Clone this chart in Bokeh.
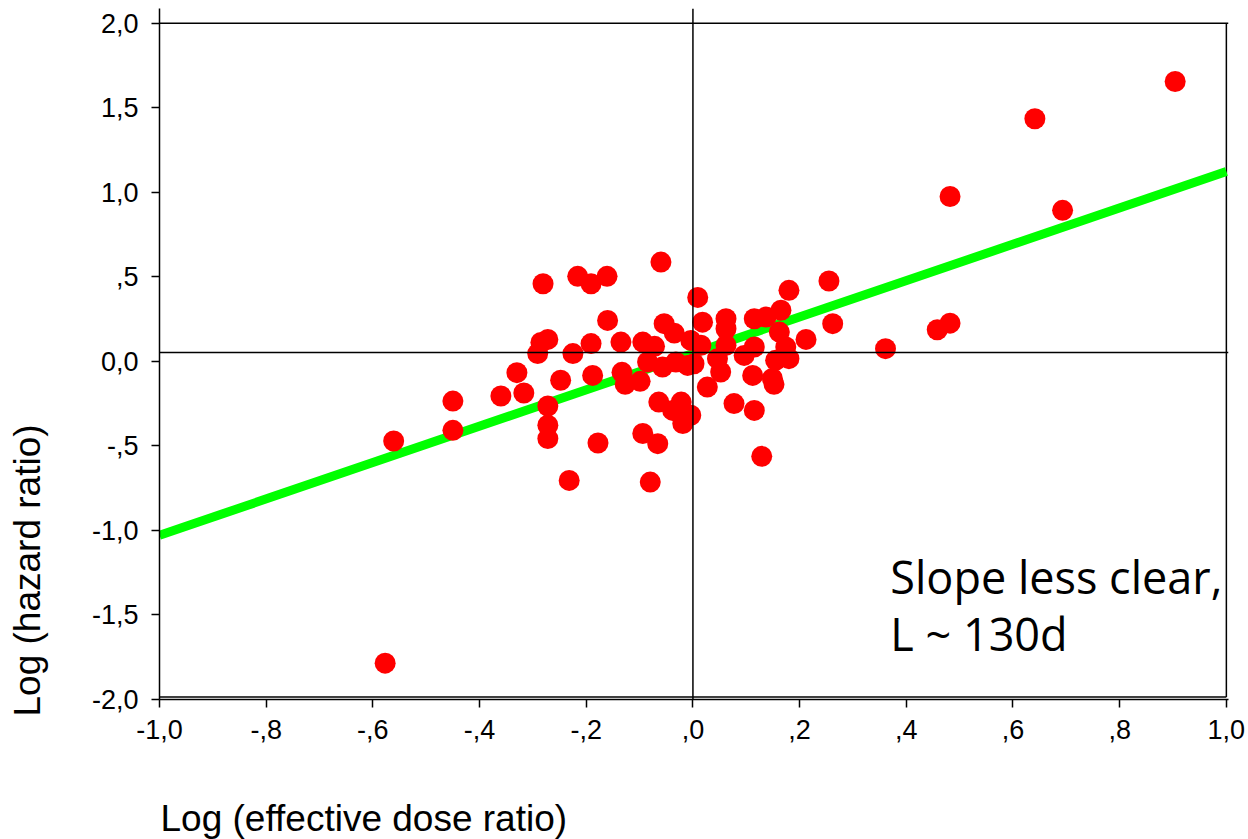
from bokeh.plotting import figure
from bokeh.models import Range1d, FixedTicker, Span, Label, Title
from bokeh.embed import file_html
from bokeh.resources import INLINE

# ---- data ----
log_dose_ratio = [
    -0.577, -0.561, -0.450, -0.450, -0.360, -0.317, -0.330, -0.291, -0.281, -0.285,
    -0.272, -0.272, -0.272, -0.272, -0.248, -0.232, -0.225, -0.216, -0.191, -0.161,
    -0.191, -0.188, -0.178, -0.160, -0.135, -0.133, -0.127, -0.099, -0.094, -0.072,
    -0.094, -0.066, -0.080, -0.085, -0.057, -0.032, -0.010, 0.002, -0.060, 0.009,
    -0.054, -0.035, 0.018, -0.004, 0.015, -0.064, -0.022, -0.038, -0.004, -0.019,
    0.027, 0.062, 0.062, 0.062, 0.046, 0.052, 0.077, 0.096, 0.115, 0.137,
    0.115, 0.112, 0.115, 0.129, 0.149, 0.152, 0.155, 0.162, 0.165, 0.180,
    0.174, 0.180, 0.212, 0.255, 0.262, 0.361, 0.458, 0.482, 0.482, 0.693,
    0.641, 0.904,
]
log_hazard_ratio = [
    -1.785, -0.471, -0.235, -0.408, -0.205, -0.187, -0.067, 0.046, 0.459, 0.112,
    0.130, -0.264, -0.378, -0.457, -0.112, -0.704, 0.046, 0.503, 0.459, 0.503,
    0.105, -0.083, -0.483, 0.242, 0.114, -0.065, -0.136, -0.118, 0.114, 0.089,
    -0.427, -0.487, -0.714, -0.004, -0.034, -0.004, -0.024, -0.014, 0.587, 0.378,
    0.223, 0.167, 0.232, 0.124, 0.095, -0.241, -0.241, -0.290, -0.319, -0.368,
    -0.152, 0.252, 0.193, 0.095, 0.016, -0.063, -0.250, 0.035, 0.252, 0.262,
    0.085, -0.083, -0.290, -0.562, -0.101, -0.136, 0.006, 0.173, 0.302, 0.420,
    0.085, 0.016, 0.130, 0.475, 0.223, 0.075, 0.187, 0.226, 0.975, 0.893,
    1.435, 1.655,
]
fit_x = [-1.0, 1.0]
fit_y = [-1.029, 1.123]
ref_hline = 0.053

x_ticks = [-1.0, -0.8, -0.6, -0.4, -0.2, 0.0, 0.2, 0.4, 0.6, 0.8, 1.0]
x_tick_labels = ["-1,0", "-,8", "-,6", "-,4", "-,2", ",0", ",2", ",4", ",6", ",8", "1,0"]
y_ticks = [-2.0, -1.5, -1.0, -0.5, 0.0, 0.5, 1.0, 1.5, 2.0]
y_tick_labels = ["-2,0", "-1,5", "-1,0", "-,5", "0,0", ",5", "1,0", "1,5", "2,0"]

x_title = "Log (effective dose ratio)"
y_title = "Log (hazard ratio)"
note_lines = ["Slope less clear,", "L ~ 130d"]

# ---- figure ----
p = figure(width=1248, height=839, output_backend="svg", toolbar_location=None,
           x_range=Range1d(-1.0, 1.004), y_range=Range1d(-2.0, 2.087),
           min_border_left=159, min_border_right=20, min_border_top=8,
           min_border_bottom=140)
p.outline_line_color = None
p.grid.visible = False
p.background_fill_color = "white"
p.border_fill_color = "white"

for ax, ticks, labels in ((p.xaxis[0], x_ticks, x_tick_labels), (p.yaxis[0], y_ticks, y_tick_labels)):
    ax.ticker = FixedTicker(ticks=ticks)
    ax.major_label_overrides = {t: l for t, l in zip(ticks, labels)}
    ax.axis_line_color = "black"
    ax.axis_line_width = 1.5
    ax.major_tick_line_color = "black"
    ax.major_tick_line_width = 1.5
    ax.major_tick_out = 8
    ax.major_tick_in = 0
    ax.minor_tick_line_color = None
    ax.major_label_text_font = "Liberation Sans"
    ax.major_label_text_font_size = "27px"
    ax.major_label_text_color = "black"
p.xaxis[0].major_label_standoff = 12
p.yaxis[0].major_label_standoff = 13

# axis titles as side-panel titles (left aligned), with blank spacers
x_spacer = Title(text=" ", text_font_size="1px", standoff=51)
y_spacer = Title(text=" ", text_font_size="1px", standoff=38)
xt = Title(text=x_title, align="left", offset=1, standoff=0, text_font="Liberation Sans",
           text_font_size="37px", text_font_style="normal", text_color="black")
yt = Title(text=y_title, align="left", offset=-17, standoff=0, text_font="Liberation Sans",
           text_font_size="37px", text_font_style="normal", text_color="black")
p.add_layout(x_spacer, "below")
p.add_layout(xt, "below")
p.add_layout(y_spacer, "left")
p.add_layout(yt, "left")

# box lines
p.add_layout(Span(location=2.0, dimension="width", line_color="black", line_width=1.5))
p.add_layout(Span(location=0.0, dimension="height", line_color="black", line_width=1.5))
p.add_layout(Span(location=ref_hline, dimension="width", line_color="black", line_width=1.5))
p.segment(x0=[1.0, -1.0], y0=[-1.985, -1.985], x1=[1.0, 1.0], y1=[2.0, -1.985],
          line_color="black", line_width=1.5)

# regression line
p.line(fit_x, fit_y, line_color="#00ff00", line_width=9)

# points
p.scatter(log_dose_ratio, log_hazard_ratio, marker="circle", size=21,
          fill_color="#ff0000", line_color=None)

# note
p.add_layout(Label(x=0.370, y=-1.271, text=note_lines[0], text_font="Open Sans",
                   text_font_size="45px", text_color="black",
                   text_align="left", text_baseline="alphabetic"))
p.add_layout(Label(x=0.370, y=-1.608, text=note_lines[1], text_font="Open Sans",
                   text_font_size="45px", text_color="black",
                   text_align="left", text_baseline="alphabetic"))

open("out.html", "w").write(file_html(p, INLINE))
